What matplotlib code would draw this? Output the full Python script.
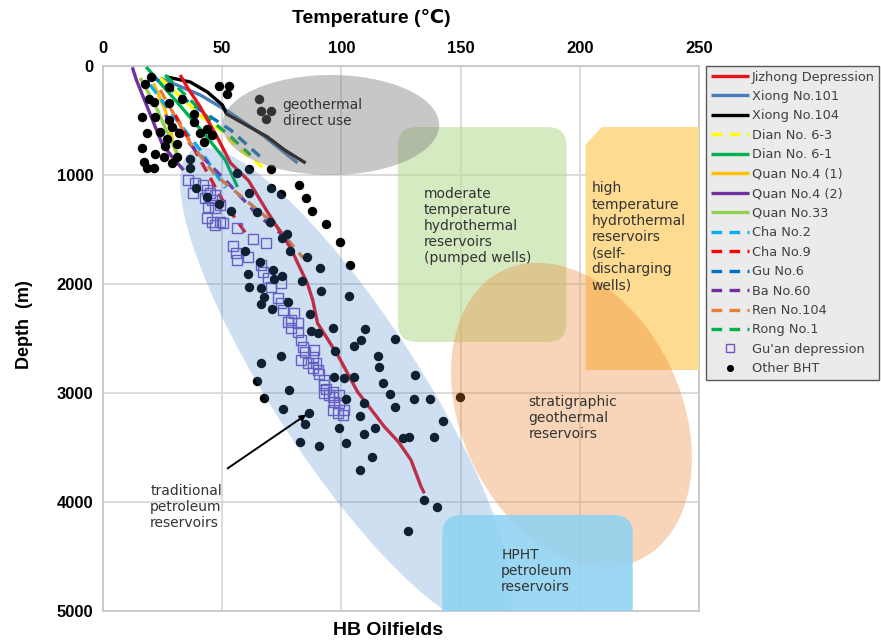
import numpy as np
import matplotlib.pyplot as plt
import matplotlib.transforms as mtransforms
from matplotlib.patches import Ellipse, FancyBboxPatch, Polygon
from matplotlib import font_manager

names = {f.name for f in font_manager.fontManager.ttflist}
narrow = 'Liberation Sans Narrow' if 'Liberation Sans Narrow' in names else 'Liberation Sans'
plt.rcParams['font.family'] = ['DejaVu Sans']

# well temperature profiles (temperature C, depth m)
jizhong_t = [32.4, 35.2, 40.8, 47.8, 53.5, 61.0, 68.9, 78.7, 85.7, 88.0, 90.0, 98.4, 106.8, 118.0, 124.0, 129.2, 133.4, 134.8]
jizhong_d = [83, 190, 376, 648, 890, 1050, 1336, 1670, 1994, 2150, 2360, 2650, 2990, 3309, 3450, 3615, 3859, 3920]
xiong101_t = [24.0, 40.8, 53.5, 66.9, 81.6]
xiong101_d = [110, 266, 431, 633, 890]
xiong104_t = [26.9, 36.6, 43.8, 50.1, 51.8, 55.6, 69.0, 76.2, 82.9, 85.0]
xiong104_d = [101, 147, 239, 358, 440, 486, 651, 771, 862, 890]
dian63_t = [24.0, 41.5, 49.2, 57.7, 66.9]
dian63_d = [110, 465, 587, 771, 927]
dian61_t = [18.1, 30.3, 42.9, 51.3, 56.4]
dian61_d = [9, 312, 633, 862, 1110]
quan41_t = [21.2, 26.1, 28.9, 29.6, 32.4]
quan41_d = [159, 404, 648, 740, 862]
quan42_t = [12.3, 14.0, 24.7, 28.9, 33.8]
quan42_d = [12, 128, 709, 832, 955]
quan33_t = [15.6, 21.9, 27.4, 31.6]
quan33_d = [110, 358, 633, 817]
cha2_t = [19.8, 30.3, 40.8, 51.3]
cha2_d = [174, 477, 771, 1119]
cha9_t = [30.3, 40.8, 50.1, 59.8]
cha9_d = [450, 862, 1229, 1532]
gu6_t = [19.8, 40.8, 53.5, 66.1]
gu6_d = [83, 404, 587, 835]
ba60_t = [26.1, 38.7, 51.3, 64.8, 75.3]
ba60_d = [450, 771, 1046, 1367, 1550]
ren104_t = [24.0, 36.6, 47.1, 59.8, 72.4, 82.9, 86.3]
ren104_d = [220, 706, 1000, 1229, 1459, 1734, 1807]
rong1_t = [26.1, 44.2, 53.5, 61.9]
rong1_d = [83, 477, 648, 817]

guan_t = [35.8, 38.7, 42.1, 43.8, 45.0, 37.9, 42.9, 45.9, 47.1, 44.2,
          47.1, 49.2, 43.8, 45.9, 49.2, 47.1, 50.5, 56.4, 63.1, 68.2,
          54.7, 55.6, 56.0, 61.0, 66.1, 67.3, 69.4, 74.5, 70.3, 73.2,
          74.5, 75.3, 80.0, 78.7, 77.4, 81.6, 78.7, 81.6, 82.9, 83.8,
          84.6, 88.4, 82.9, 87.9, 85.9, 89.2, 87.9, 90.1, 90.5, 92.6,
          92.6, 93.4, 96.4, 94.7, 98.9, 92.6, 96.4, 96.8, 98.9, 96.4,
          98.5, 100.6, 101.0]
guan_d = [1046, 1073, 1092, 1138, 1165, 1165, 1211, 1229, 1183, 1294,
          1303, 1275, 1394, 1431, 1431, 1459, 1440, 1486, 1587, 1624,
          1651, 1716, 1780, 1752, 1826, 1890, 1945, 1991, 2027, 2128,
          2174, 2238, 2266, 2330, 2349, 2358, 2404, 2440, 2514, 2578,
          2624, 2605, 2697, 2670, 2725, 2725, 2771, 2789, 2826, 2881,
          2926, 2963, 2991, 3018, 3018, 3000, 3037, 3082, 3092, 3156,
          3183, 3202, 3156]

bht_t = [20.1, 17.7, 27.5, 19.5, 21.2, 27.5, 33.1, 16.3, 21.9, 27.5,
         38.0, 38.0, 18.4, 24.0, 28.9, 31.7, 26.8, 40.8, 43.6, 45.7,
         16.3, 21.9, 26.1, 31.0, 25.4, 31.0, 36.6, 42.2, 17.0, 18.4,
         21.2, 28.9, 36.6, 48.5, 52.7, 52.1, 65.4, 66.1, 70.3, 68.2,
         56.0, 61.2, 70.3, 70.3, 74.5, 82.2, 85.2, 87.8, 93.4, 99.3,
         103.7, 70.0, 77.2, 75.2, 78.4, 85.7, 91.0, 71.3, 75.2, 71.7,
         83.6, 91.5, 61.2, 64.7, 43.6, 48.5, 53.5, 39.0, 59.5, 65.8,
         60.7, 61.2, 66.1, 67.5, 66.1, 71.0, 77.6, 86.8, 87.1, 90.3,
         96.6, 103.3, 74.5, 66.1, 97.4, 64.5, 77.9, 67.5, 96.7, 100.9,
         105.1, 110.0, 108.2, 105.1, 122.6, 115.2, 115.9, 131.0, 117.3, 120.5,
         130.6, 137.3, 102.1, 109.3, 122.5, 142.8, 75.6, 86.4, 84.7, 82.6,
         90.6, 101.9, 99.0, 107.9, 114.1, 109.6, 125.7, 128.5, 139.0, 112.7,
         107.9, 134.8, 140.0, 128.1, 149.7]
bht_d = [104, 165, 190, 305, 328, 342, 305, 465, 471, 495,
         440, 511, 612, 603, 557, 617, 672, 612, 581, 633,
         755, 807, 734, 716, 832, 832, 850, 694, 878, 938,
         938, 893, 938, 181, 181, 260, 305, 410, 410, 489,
         979, 945, 945, 1115, 1174, 1092, 1208, 1327, 1445, 1612,
         1826, 1428, 1537, 1578, 1697, 1755, 1850, 1872, 1927, 1957,
         1968, 2064, 1168, 1337, 1199, 1266, 1330, 1122, 1697, 1801,
         1911, 2030, 2039, 2119, 2186, 2232, 2168, 2278, 2428, 2452,
         2406, 2110, 2658, 2722, 2612, 2893, 2972, 3049, 2850, 2865,
         2850, 2413, 2514, 2569, 2500, 2660, 2764, 2832, 2911, 3012,
         3055, 3055, 3052, 3094, 3125, 3257, 3149, 3180, 3284, 3447,
         3486, 3461, 3318, 3208, 3318, 3379, 3416, 3401, 3406, 3590,
         3706, 3981, 4043, 4263, 3039]

fig = plt.figure(figsize=(8.81, 6.43), dpi=100)
ax = fig.add_axes([103/881, 1 - 611/643, 596/881, 545/643])
ax.set_xlim(0, 250)
ax.set_ylim(5000, 0)
ax.set_axisbelow(True)
ax.grid(True, color='#d9d9d9', lw=1.3)
for s in ax.spines.values():
    s.set_color('#c8c8c8')
    s.set_linewidth(1.3)

solid = dict(lw=2.4, solid_capstyle='butt')
dash = dict(lw=2.4, dashes=(3.2, 2.2))
ax.plot(jizhong_t, jizhong_d, color='#e8141c', label='Jizhong Depression', zorder=3.5, **solid)
ax.plot(xiong101_t, xiong101_d, color='#4a7ebb', label='Xiong No.101', zorder=3, **solid)
ax.plot(xiong104_t, xiong104_d, color='black', label='Xiong No.104', zorder=3, **solid)
ax.plot(dian63_t, dian63_d, color='#ffff00', label='Dian No. 6-3', zorder=3, **dash)
ax.plot(dian61_t, dian61_d, color='#00b050', label='Dian No. 6-1', zorder=3, **solid)
ax.plot(quan41_t, quan41_d, color='#ffc000', label='Quan No.4 (1)', zorder=3, **solid)
ax.plot(quan42_t, quan42_d, color='#7030a0', label='Quan No.4 (2)', zorder=3, **solid)
ax.plot(quan33_t, quan33_d, color='#92d050', label='Quan No.33', zorder=3, **solid)
ax.plot(cha2_t, cha2_d, color='#00b0f0', label='Cha No.2', zorder=3, **dash)
ax.plot(cha9_t, cha9_d, color='#ff0000', label='Cha No.9', zorder=3, **dash)
ax.plot(gu6_t, gu6_d, color='#0070c0', label='Gu No.6', zorder=3, **dash)
ax.plot(ba60_t, ba60_d, color='#7030a0', label='Ba No.60', zorder=3, **dash)
ax.plot(ren104_t, ren104_d, color='#ed7d31', label='Ren No.104', zorder=3, **dash)
ax.plot(rong1_t, rong1_d, color='#00b050', label='Rong No.1', zorder=3, **dash)
ax.plot(guan_t, guan_d, 's', ms=7.5, mfc='none', mec='#7553c2', mew=1.0,
        label="Gu'an depression", zorder=4)
ax.plot(bht_t, bht_d, 'o', ms=6.8, color='black', mec='none', label='Other BHT', zorder=4.5)

# shapes drawn in an isotropic space so rotated ellipses look right
pos = ax.get_position()
w_in, h_in = fig.get_size_inches()
k = (pos.width * w_in / 250) / (pos.height * h_in / 5000)
iso = mtransforms.Affine2D().scale(1, k) + ax.transData

ax.add_patch(FancyBboxPatch((123.7, 560 / k), 70.7, (2532 - 560) / k,
                            boxstyle='round,pad=0,rounding_size=8',
                            fc=(187/255, 220/255, 153/255), ec='none', alpha=0.6,
                            transform=iso, zorder=5))
ax.add_patch(Polygon([(202.4, 725), (209.2, 560), (250, 560), (250, 2789), (202.4, 2789)],
                     closed=True, fc='#fdd98a', ec='none', alpha=0.95, zorder=5))
ax.add_patch(Ellipse((95.5, 541), 91, 917, fc='#7a7a7a', ec='none', alpha=0.42, zorder=5))
ax.add_patch(Ellipse((101.9, 2954 / k), 237.4, 61.2, angle=57,
                     fc=(60/255, 130/255, 200/255), ec='none', alpha=0.25,
                     transform=iso, zorder=5))
ax.add_patch(Ellipse((196.5, 3202 / k), 134.2, 92.3, angle=65,
                     fc=(235/255, 130/255, 45/255), ec='none', alpha=0.33,
                     transform=iso, zorder=5.1))
ax.add_patch(FancyBboxPatch((142.3, 4119 / k), 79.9, (5400 - 4119) / k,
                            boxstyle='round,pad=0,rounding_size=8',
                            fc='#8fd3f2', ec='none', alpha=0.88,
                            transform=iso, zorder=5.2))

tk = dict(fontsize=10, color='#333333', va='center', ha='left', linespacing=1.2, zorder=7)
ax.text(75.3, 430, 'geothermal\ndirect use', **tk)
ax.text(134.7, 1468, 'moderate\ntemperature\nhydrothermal\nreservoirs\n(pumped wells)', **tk)
ax.text(205, 1569, 'high\ntemperature\nhydrothermal\nreservoirs\n(self-\ndischarging\nwells)', **tk)
ax.text(178.5, 3230, 'stratigraphic\ngeothermal\nreservoirs', **tk)
ax.text(167, 4633, 'HPHT\npetroleum\nreservoirs', **tk)
ax.text(19.8, 4046, 'traditional\npetroleum\nreservoirs', **tk)
ax.annotate('', xy=(86.3, 3183), xytext=(51.3, 3706),
            arrowprops=dict(arrowstyle='-|>', color='black', lw=1.4, mutation_scale=9),
            zorder=7)

ax.xaxis.tick_top()
ax.set_xticks([0, 50, 100, 150, 200, 250])
ax.set_yticks([0, 1000, 2000, 3000, 4000, 5000])
ax.tick_params(length=0, pad=7, labelsize=12)
for lab in ax.get_xticklabels() + ax.get_yticklabels():
    lab.set_family([narrow, 'DejaVu Sans'])
    lab.set_fontweight('bold')

fig.text(0.422, 0.972, 'Temperature (\u2103)', ha='center', va='center', fontsize=14,
         fontweight='bold', family=[narrow, 'DejaVu Sans'])
fig.text(0.44, 0.02, 'HB Oilfields', ha='center', va='center', fontsize=14,
         fontweight='bold', family=[narrow, 'DejaVu Sans'])
fig.text(0.028, 0.495, 'Depth  (m)', ha='center', va='center', rotation=90, fontsize=13,
         fontweight='bold', family=[narrow, 'DejaVu Sans'])

h, l = ax.get_legend_handles_labels()
leg = fig.legend(h, l, loc='upper left', bbox_to_anchor=(706/881, 1 - 66/643),
                 fontsize=9.3, labelspacing=0.5, handlelength=3.0, handletextpad=0.2,
                 borderaxespad=0, borderpad=0.35, fancybox=False, framealpha=1,
                 facecolor='#ebebeb', edgecolor='#595959', markerscale=0.75)
for t in leg.get_texts():
    t.set_color('#404040')

fig.savefig('out.png', dpi=100)
